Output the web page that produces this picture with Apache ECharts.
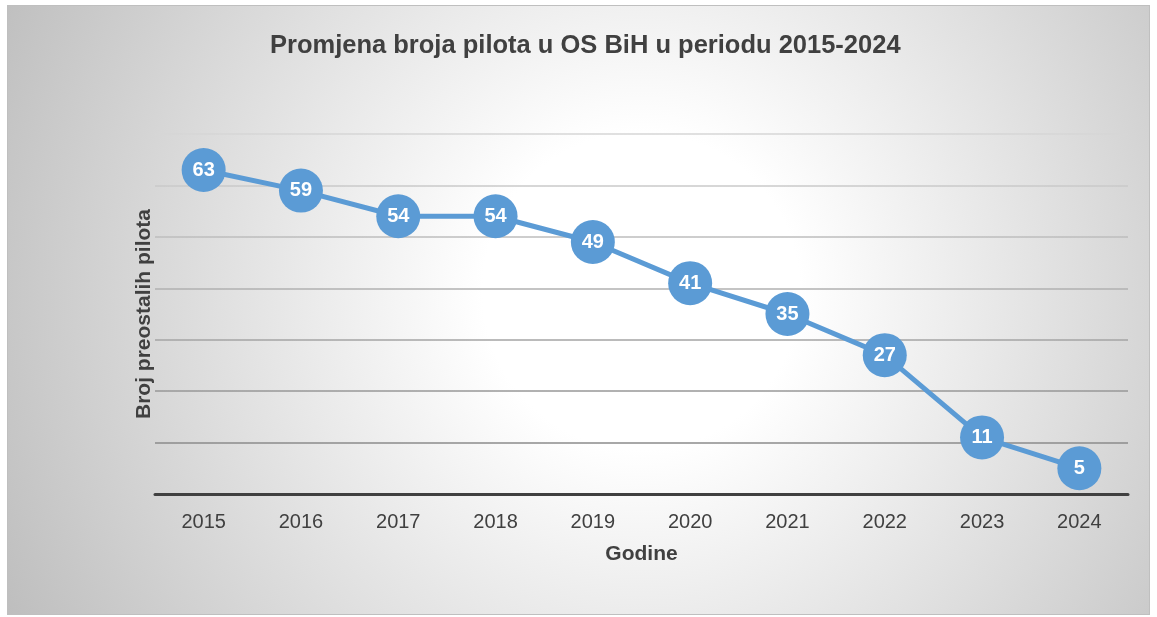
<!DOCTYPE html>
<html>
<head>
<meta charset="utf-8">
<script src="https://cdn.jsdelivr.net/npm/echarts@6/dist/echarts.min.js"></script>
<style>
  html, body { margin: 0; padding: 0; background: #fff; }
  #chart {
    position: absolute;
    left: 7px;
    top: 5px;
    width: 1141px;
    height: 608px;
    border: 1px solid #bfbfbf;
    background: radial-gradient(circle 720px at 633px 285px, #ffffff 0%, #ffffff 22%, #bdbdbd 100%);
  }
</style>
</head>
<body>
<div id="chart"></div>
<script>
// data
const years = ['2015', '2016', '2017', '2018', '2019', '2020', '2021', '2022', '2023', '2024'];
const pilots = [63, 59, 54, 54, 49, 41, 35, 27, 11, 5];

const titleText = 'Promjena broja pilota u OS BiH u periodu 2015-2024';
const xName = 'Godine';
const yName = 'Broj preostalih pilota';

const blue = '#5b9bd5';
const dark = '#404040';
const font = '"Liberation Sans", Arial, sans-serif';

const chart = echarts.init(document.getElementById('chart'));

chart.setOption({
  animation: false,
  backgroundColor: 'transparent',
  title: {
    text: titleText,
    left: 257,
    top: 22,
    textStyle: { fontFamily: font, fontSize: 25.5, fontWeight: 'bold', color: dark }
  },
  grid: { left: 147, right: 21, top: 128, bottom: 120 },
  xAxis: {
    type: 'category',
    data: years,
    boundaryGap: true,
    name: xName,
    nameLocation: 'middle',
    nameGap: 50,
    nameTextStyle: { fontFamily: font, fontSize: 21, fontWeight: 'bold', color: dark },
    axisLine: { lineStyle: { color: dark, width: 3 } },
    axisTick: { show: false },
    axisLabel: { fontFamily: font, fontSize: 20, color: dark, margin: 18 }
  },
  yAxis: {
    type: 'value',
    min: 0,
    max: 70,
    interval: 10,
    name: yName,
    nameLocation: 'middle',
    nameGap: 0,
    nameTextStyle: { fontFamily: font, fontSize: 21, fontWeight: 'bold', color: dark },
    axisLine: { show: false },
    axisTick: { show: false },
    axisLabel: { show: false },
    splitLine: {
      lineStyle: {
        width: 1.5,
        color: {
          type: 'linear', x: 0, y: 128, x2: 0, y2: 440, global: true,
          colorStops: [
            { offset: 0, color: '#d6d6d6' },
            { offset: 1, color: '#8a8a8a' }
          ]
        }
      }
    }
  },
  series: [{
    type: 'line',
    data: pilots,
    symbol: 'circle',
    symbolSize: 44,
    lineStyle: { color: blue, width: 5 },
    itemStyle: { color: blue },
    label: {
      show: true,
      position: 'inside',
      fontFamily: font,
      fontSize: 20,
      fontWeight: 'bold',
      color: '#fff'
    }
  }]
});
</script>
</body>
</html>
